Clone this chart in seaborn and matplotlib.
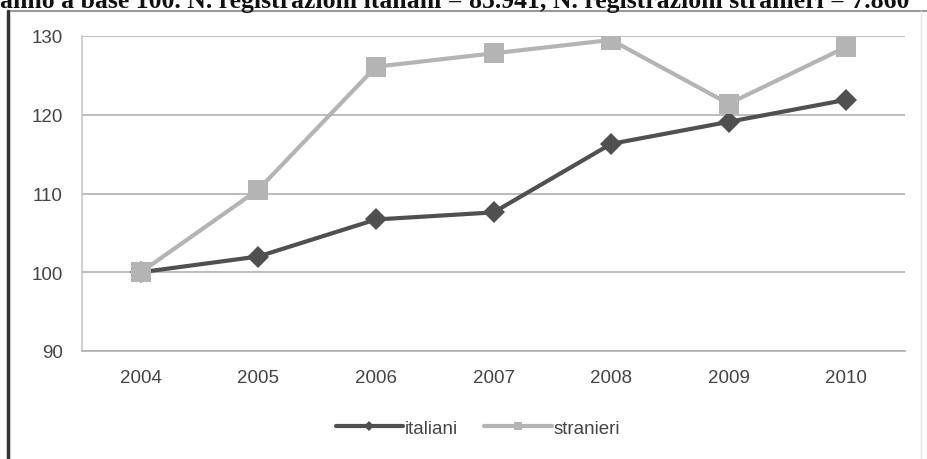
import matplotlib
matplotlib.use("Agg")
import matplotlib.pyplot as plt
from matplotlib.lines import Line2D
import seaborn as sns
import pandas as pd

years = ["2004", "2005", "2006", "2007", "2008", "2009", "2010"]
italiani = [100.0, 102.0, 106.7, 107.6, 116.3, 119.1, 121.9]
stranieri = [100.0, 110.5, 126.1, 127.8, 129.5, 121.4, 128.6]
y_ticks = [90, 100, 110, 120, 130]

df = pd.DataFrame({
    "pos": list(range(len(years))) * 2,
    "valore": italiani + stranieri,
    "gruppo": ["italiani"] * len(years) + ["stranieri"] * len(years),
})

sns.set_theme(style="white")
plt.rcParams["font.family"] = ["Liberation Sans", "DejaVu Sans"]

fig = plt.figure(figsize=(9.27, 4.6), dpi=100)
ax = fig.add_axes([82 / 927, 1 - 352 / 460, (905 - 82) / 927, (352 - 37) / 460])

colors = {"italiani": "#505050", "stranieri": "#b4b4b4"}
sns.lineplot(data=df, x="pos", y="valore", hue="gruppo", style="gruppo",
             palette=colors, markers={"italiani": "D", "stranieri": "s"},
             dashes=False, linewidth=3, markersize=11, markeredgewidth=0,
             legend=False, ax=ax, zorder=3)
# diamonds a bit smaller than squares
for line in ax.get_lines():
    if line.get_marker() == "D":
        line.set_markersize(11)
    else:
        line.set_markersize(14)

ax.set_xlim(-0.5, len(years) - 0.5)
ax.set_ylim(90, 130)
ax.set_yticks(y_ticks)
ax.set_xticks(range(len(years)))
ax.set_xticklabels(years)
ax.set_xlabel("")
ax.set_ylabel("")
ax.tick_params(axis="both", length=0, labelsize=13.5, colors="#444444")
ax.tick_params(axis="y", pad=14)
ax.tick_params(axis="x", pad=13)
ax.grid(axis="y", color="#b0b0b0", linewidth=1.2)
ax.set_axisbelow(True)
for side in ["top", "right"]:
    ax.spines[side].set_visible(False)
ax.spines["left"].set_color("#c8c8c8")
ax.spines["bottom"].set_color("#b0b0b0")
ax.spines["left"].set_linewidth(1.2)
ax.spines["bottom"].set_linewidth(1.2)

handles = [
    Line2D([], [], color=colors["italiani"], lw=3, marker="D", markersize=5, markeredgewidth=0),
    Line2D([], [], color=colors["stranieri"], lw=3, marker="s", markersize=6, markeredgewidth=0),
]
fig.legend(handles, ["italiani", "stranieri"], loc="center", bbox_to_anchor=(478 / 927, 1 - 429 / 460),
           ncol=2, frameon=False, handlelength=3.6, handletextpad=0.1, columnspacing=1.4,
           fontsize=13.5, labelcolor="#444444")

# outer frame of the figure panel
fig.add_artist(Line2D([8 / 927, 1], [1 - 12 / 460] * 2, color="#9a9a9a", lw=1.5))
fig.add_artist(Line2D([8 / 927] * 2, [0, 1 - 12 / 460], color="#333333", lw=2.5))
fig.add_artist(Line2D([921 / 927] * 2, [0, 1 - 12 / 460], color="#e6e6e6", lw=1.0))

# caption line running past the top edge
fig.text(0.0, 1 - 8 / 460, "anno a base 100. N. registrazioni italiani = 85.941, N. registrazioni stranieri = 7.860",
         fontsize=18.5, fontweight="bold", family="Liberation Serif", va="baseline", ha="left", color="#111111")

fig.savefig("out.png", dpi=100)
